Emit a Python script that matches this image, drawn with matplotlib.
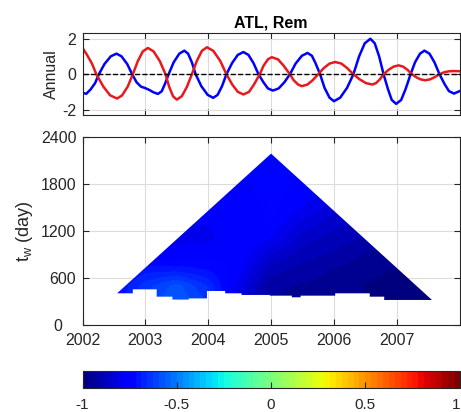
import numpy as np
import matplotlib
matplotlib.use("Agg")
import matplotlib.pyplot as plt
from matplotlib.patches import Polygon
from matplotlib.transforms import ScaledTranslation

plt.rcParams['font.family'] = ['Liberation Sans', 'DejaVu Sans']
plt.rcParams['axes.unicode_minus'] = False
plt.rcParams['mathtext.default'] = 'regular'

# annual components
t_blue = [2002.00, 2002.06, 2002.13, 2002.20, 2002.26, 2002.35, 2002.45, 2002.54, 2002.62, 2002.71,
          2002.79, 2002.86, 2002.93, 2002.99, 2003.06, 2003.13, 2003.20, 2003.26, 2003.31, 2003.37,
          2003.45, 2003.54, 2003.62, 2003.68, 2003.74, 2003.80, 2003.89, 2003.99, 2004.08, 2004.15,
          2004.22, 2004.29, 2004.38, 2004.47, 2004.56, 2004.64, 2004.72, 2004.80, 2004.88, 2004.95,
          2005.03, 2005.12, 2005.21, 2005.30, 2005.39, 2005.49, 2005.58, 2005.65, 2005.71, 2005.78,
          2005.85, 2005.93, 2006.00, 2006.10, 2006.21, 2006.31, 2006.40, 2006.49, 2006.58, 2006.65,
          2006.72, 2006.79, 2006.86, 2006.92, 2006.99, 2007.07, 2007.14, 2007.22, 2007.29, 2007.37,
          2007.44, 2007.52, 2007.60, 2007.68, 2007.76, 2007.83, 2007.91, 2008.00]
v_blue = [-1.05, -1.10, -0.85, -0.50, 0.00, 0.58, 1.01, 1.16, 1.01, 0.58,
          0.00, -0.45, -0.70, -0.77, -0.88, -1.02, -1.11, -0.96, -0.56, 0.00,
          0.67, 1.16, 1.33, 1.16, 0.67, 0.00, -0.67, -1.16, -1.33, -1.16,
          -0.67, 0.00, 0.63, 1.09, 1.25, 1.09, 0.63, 0.00, -0.46, -0.80,
          -0.92, -0.80, -0.46, 0.00, 0.60, 1.04, 1.20, 1.04, 0.60, 0.00,
          -0.76, -1.32, -1.52, -1.32, -0.76, 0.00, 1.00, 1.74, 2.00, 1.74,
          1.00, 0.00, -0.84, -1.45, -1.67, -1.45, -0.84, 0.00, 0.67, 1.16,
          1.33, 1.16, 0.67, 0.00, -0.55, -0.95, -1.09, -0.95]

t_red = [2002.00, 2002.07, 2002.15, 2002.22, 2002.33, 2002.44, 2002.55, 2002.63, 2002.72, 2002.80,
         2002.88, 2002.96, 2003.04, 2003.13, 2003.23, 2003.32, 2003.38, 2003.44, 2003.50, 2003.58,
         2003.66, 2003.74, 2003.82, 2003.90, 2003.98, 2004.08, 2004.19, 2004.29, 2004.38, 2004.47,
         2004.56, 2004.65, 2004.73, 2004.82, 2004.88, 2004.95, 2005.01, 2005.11, 2005.20, 2005.30,
         2005.36, 2005.43, 2005.49, 2005.58, 2005.66, 2005.75, 2005.84, 2005.93, 2006.02, 2006.12,
         2006.21, 2006.31, 2006.41, 2006.51, 2006.61, 2006.67, 2006.73, 2006.79, 2006.87, 2006.95,
         2007.03, 2007.10, 2007.17, 2007.24, 2007.31, 2007.38, 2007.45, 2007.53, 2007.60, 2007.68,
         2007.76, 2007.84, 2007.92, 2008.00]
v_red = [1.48, 1.10, 0.60, 0.00, -0.69, -1.19, -1.37, -1.19, -0.69, 0.00,
         0.74, 1.29, 1.48, 1.29, 0.74, 0.00, -0.72, -1.24, -1.43, -1.24,
         -0.72, 0.00, 0.76, 1.32, 1.52, 1.32, 0.76, 0.00, -0.57, -0.99,
         -1.14, -0.99, -0.57, 0.00, 0.48, 0.84, 0.96, 0.84, 0.48, 0.00,
         -0.34, -0.58, -0.67, -0.58, -0.34, 0.00, 0.35, 0.60, 0.69, 0.60,
         0.35, 0.00, -0.29, -0.50, -0.58, -0.50, -0.29, 0.00, 0.25, 0.43,
         0.50, 0.43, 0.25, 0.00, -0.17, -0.29, -0.34, -0.29, -0.17, 0.00,
         0.12, 0.17, 0.18, 0.17]

# correlation vs window centre / window length
t_centre = [2002.5, 2003.0, 2003.5, 2004.0, 2004.5, 2005.0, 2005.5, 2006.0, 2006.5, 2007.0, 2007.5]
tw_nodes = [300, 500, 700, 900, 1100, 1300, 1500, 1700, 1900, 2100, 2300]
corr = [
    [-0.72, -0.62, -0.56, -0.63, -0.84, -0.94, -0.95, -0.96, -0.97, -0.98, -0.98],
    [-0.73, -0.64, -0.58, -0.66, -0.80, -0.93, -0.94, -0.95, -0.97, -0.98, -0.98],
    [-0.76, -0.70, -0.70, -0.72, -0.77, -0.89, -0.92, -0.94, -0.96, -0.97, -0.97],
    [-0.78, -0.77, -0.77, -0.76, -0.75, -0.84, -0.89, -0.91, -0.94, -0.96, -0.96],
    [-0.79, -0.79, -0.79, -0.79, -0.75, -0.78, -0.86, -0.89, -0.91, -0.94, -0.94],
    [-0.78, -0.78, -0.78, -0.78, -0.76, -0.75, -0.82, -0.86, -0.88, -0.92, -0.92],
    [-0.77, -0.77, -0.77, -0.77, -0.77, -0.74, -0.78, -0.83, -0.86, -0.90, -0.90],
    [-0.76, -0.76, -0.76, -0.76, -0.76, -0.74, -0.76, -0.80, -0.84, -0.88, -0.88],
    [-0.75, -0.75, -0.75, -0.75, -0.75, -0.74, -0.75, -0.78, -0.82, -0.86, -0.86],
    [-0.74, -0.74, -0.74, -0.74, -0.74, -0.74, -0.74, -0.76, -0.80, -0.84, -0.84],
    [-0.73, -0.73, -0.73, -0.73, -0.73, -0.73, -0.73, -0.75, -0.78, -0.82, -0.82],
]

# valid region: shortest window per centre time, plus the cone apex
edge_t = [2002.55, 2002.80, 2003.18, 2003.43, 2003.69, 2003.98, 2004.27, 2004.53,
          2004.98, 2005.33, 2005.47, 2006.02, 2006.57, 2006.80, 2007.56]
edge_tw = [405, 456, 362, 325, 340, 435, 405, 384, 375, 354, 375, 405, 362, 320]
apex = (2005.0, 2191)

grey = '#262626'
fig = plt.figure(figsize=(4.61, 4.12), dpi=100)

# ---- top panel
ax1 = fig.add_axes([0.179, 0.7216, 0.818, 0.199])
ax1.plot(t_blue, v_blue, color='#0000ff', lw=1.8)
ax1.plot(t_red, v_red, color='#e8191c', lw=1.8)
ax1.axhline(0, color='k', ls='--', lw=1.0)
ax1.set_xlim(2002, 2008)
ax1.set_ylim(-2.28, 2.34)
ax1.set_yticks([-2, 0, 2])
ax1.set_xticks(range(2002, 2008))
ax1.set_xticklabels([])
ax1.set_ylabel('Annual', fontsize=11.5, color=grey, labelpad=2)
ax1.set_title('ATL, Rem', fontsize=11.5, fontweight='bold', pad=4)

# ---- bottom panel
ax2 = fig.add_axes([0.179, 0.2112, 0.818, 0.4556])
cmap = plt.get_cmap('jet', 64)
dt = t_centre[1] - t_centre[0]
dw = tw_nodes[1] - tw_nodes[0]
im = ax2.imshow(np.array(corr), origin='lower', aspect='auto', cmap=cmap,
                vmin=-1, vmax=1, interpolation='bilinear', zorder=2,
                extent=[t_centre[0] - dt / 2, t_centre[-1] + dt / 2,
                        tw_nodes[0] - dw / 2, tw_nodes[-1] + dw / 2])
verts = []
for i, w in enumerate(edge_tw):
    verts.append((edge_t[i], w))
    verts.append((edge_t[i + 1], w))
verts.append(apex)
clip = Polygon(verts, closed=True, transform=ax2.transData,
               facecolor='none', edgecolor='none')
im.set_clip_path(clip)
ax2.set_xlim(2002, 2008)
ax2.set_ylim(0, 2400)
ax2.set_xticks(range(2002, 2008))
ax2.set_yticks([0, 600, 1200, 1800, 2400])
ax2.set_ylabel('t$_w$ (day)', fontsize=13, color=grey)

for ax in (ax1, ax2):
    ax.set_axisbelow(True)
    ax.grid(True, color='#dcdcdc', lw=0.8)
    ax.tick_params(direction='in', top=True, right=True, length=4,
                   labelsize=11.5, colors=grey, width=0.8)
    ax.tick_params(axis='y', pad=4.5)
    for s in ax.spines.values():
        s.set_color(grey)
        s.set_linewidth(0.8)
ax2.tick_params(axis='x', pad=6)

# ---- colorbar
cax = fig.add_axes([0.179, 0.0583, 0.818, 0.0413])
cb = fig.colorbar(im, cax=cax, orientation='horizontal', ticks=[-1, -0.5, 0, 0.5, 1])
cb.ax.set_xticklabels(['-1', '-0.5', '0', '0.5', '1'])
cb.ax.tick_params(direction='in', length=4, labelsize=11, colors=grey, width=0.8, pad=7)
cb.outline.set_edgecolor(grey)
cb.outline.set_linewidth(0.8)

# nudge edge labels: "0" clear of "2002", "1" inside the figure
fig.canvas.draw()
zero_lbl = ax2.get_yticklabels()[0]
zero_lbl.set_transform(zero_lbl.get_transform() + ScaledTranslation(-0.14, 0, fig.dpi_scale_trans))
one_lbl = cb.ax.get_xticklabels()[-1]
one_lbl.set_transform(one_lbl.get_transform() + ScaledTranslation(-0.035, 0, fig.dpi_scale_trans))

fig.savefig('out.png', dpi=100)
